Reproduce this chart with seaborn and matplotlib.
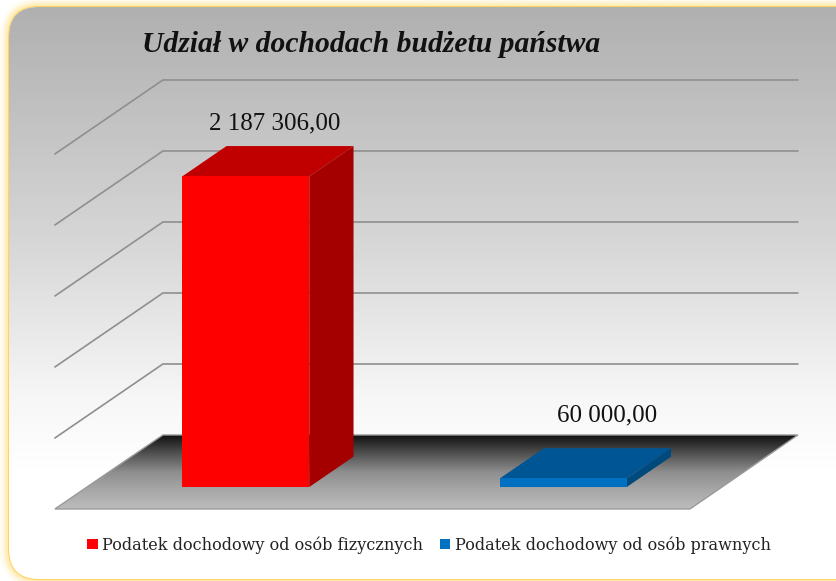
import numpy as np
import pandas as pd
import matplotlib.pyplot as plt
import seaborn as sns
from matplotlib.colors import LinearSegmentedColormap
from matplotlib.patches import FancyBboxPatch, Polygon

# Data
categories = ["Podatek dochodowy od osób fizycznych", "Podatek dochodowy od osób prawnych"]
values = [2187306.00, 60000.00]
grid_values = [0, 500000, 1000000, 1500000, 2000000, 2500000]

title = "Udział w dochodach budżetu państwa"

# Colours for the faces of each bar
front_colors = ["#ff0000", "#0070c0"]
top_colors = ["#c00000", "#005694"]
side_colors = ["#a50000", "#00497d"]
grid_color = "#8f8f8f"

W, H = 836, 581
BAR_WIDTH = 0.4

# fake 3D depth, in pixels for one full floor depth
DEPTH_DX = 108 / 317.5          # in category units
DEPTH_DY = 74 / 142 * 1e6       # in value units
FLOOR_FRONT = -0.297
FLOOR_BACK = 0.703
BAR_BACK = 0.41


def project(x, y, depth):
    return x + depth * DEPTH_DX, y + depth * DEPTH_DY


def fmt_value(v):
    return f"{v:,.2f}".replace(",", " ").replace(".", ",")


sns.set_style("white")
plt.rcParams["font.family"] = ["Liberation Serif", "DejaVu Serif"]

fig = plt.figure(figsize=(W / 100, H / 100), dpi=100, facecolor="white")

# Background panel with yellow glow, in pixel coordinates
bg = fig.add_axes([0, 0, 1, 1], zorder=0)
bg.set_xlim(0, W)
bg.set_ylim(H, 0)
bg.axis("off")
box = dict(boxstyle="round,pad=0,rounding_size=30")
for lw, col in [(13, "#fffbf0"), (9, "#fff6dc"), (6, "#fff0c4"), (3, "#ffe9ab"), (1.3, "#ffd05c")]:
    bg.add_patch(FancyBboxPatch((9, 7), 880, 572, fc="none", ec=col, lw=lw, **box))
panel = FancyBboxPatch((9, 7), 880, 572, fc="white", ec="none", **box)
bg.add_patch(panel)
panel_cmap = LinearSegmentedColormap.from_list(
    "panel", [(0, "#b0b0b0"), (0.5, "#d6d6d6"), (0.85, "#f7f7f7"), (1, "#ffffff")])
grad = np.linspace(0, 1, 256).reshape(-1, 1)
img = bg.imshow(grad, cmap=panel_cmap, extent=(0, W, 470, 7), aspect="auto", zorder=2)
img.set_clip_path(panel)
bg.set_xlim(0, W)
bg.set_ylim(H, 0)

# Main axes sit on the plane of the bars' front faces
ax = fig.add_axes([87 / W, (H - 487) / H, 635 / W, 355 / H], zorder=1)
ax.patch.set_alpha(0)

df = pd.DataFrame({"category": categories, "value": values})
sns.barplot(data=df, x="category", y="value", hue="category", palette=front_colors,
            hue_order=categories, order=categories, width=BAR_WIDTH, dodge=False,
            saturation=1, ax=ax, zorder=5, linewidth=0, legend=True)
ax.set_xlim(-0.5, 1.5)
ax.set_ylim(0, 2500000)

# Walls: grid lines running along the side and back
x0, x1 = -0.5, 1.5
for v in grid_values[1:]:
    xs = [project(x0, v, FLOOR_FRONT)[0], project(x0, v, FLOOR_BACK)[0], project(x1, v, FLOOR_BACK)[0]]
    ys = [project(x0, v, FLOOR_FRONT)[1], project(x0, v, FLOOR_BACK)[1], project(x1, v, FLOOR_BACK)[1]]
    ax.plot(xs, ys, color=grid_color, lw=1.2, clip_on=False, zorder=1, solid_joinstyle="miter")

# Floor with dark-to-grey gradient
floor_pts = [project(x0, 0, FLOOR_FRONT), project(x1, 0, FLOOR_FRONT),
             project(x1, 0, FLOOR_BACK), project(x0, 0, FLOOR_BACK)]
floor = Polygon(floor_pts, closed=True, fc="none", ec="#9a9a9a", lw=1.0, zorder=3,
                clip_on=False, transform=ax.transData)
ax.add_patch(floor)
floor_cmap = LinearSegmentedColormap.from_list(
    "floor", [(0, "#bcbcbc"), (0.25, "#a8a8a8"), (0.5, "#8e8e8e"), (0.78, "#4a4a4a"), (1, "#111111")])
ylow, yhigh = floor_pts[0][1], floor_pts[2][1]
fimg = ax.imshow(grad, cmap=floor_cmap, origin="lower", aspect="auto", zorder=2,
                 extent=(floor_pts[0][0], floor_pts[2][0], ylow, yhigh))
fimg.set_clip_box(fig.bbox)
fimg.set_clip_path(floor)
ax.set_xlim(-0.5, 1.5)
ax.set_ylim(0, 2500000)

# Top and side faces of the bars, plus value labels
label_offsets = [(29, 53), (44, 63)]
for i, v in enumerate(values):
    left, right = i - BAR_WIDTH / 2, i + BAR_WIDTH / 2
    top = [project(left, v, 0), project(right, v, 0), project(right, v, BAR_BACK), project(left, v, BAR_BACK)]
    side = [project(right, 0, 0), project(right, 0, BAR_BACK), project(right, v, BAR_BACK), project(right, v, 0)]
    ax.add_patch(Polygon(top, closed=True, fc=top_colors[i], ec="none", zorder=4, clip_on=False))
    ax.add_patch(Polygon(side, closed=True, fc=side_colors[i], ec="none", zorder=4, clip_on=False))
    ax.annotate(fmt_value(v), xy=(i, v), xytext=label_offsets[i], textcoords="offset pixels",
                ha="center", va="center", fontsize=18, color="#111111", annotation_clip=False)

for bar in ax.patches:
    bar.set_clip_on(False)

# Legend below the floor
handles, labels = ax.get_legend_handles_labels()
ax.get_legend().remove()
ax.axis("off")

fig.text(371 / W, 1 - 44 / H, title, ha="center", va="center", fontsize=21.3,
         fontweight="bold", fontstyle="italic", color="#111111", zorder=5)

leg = fig.legend(handles, labels, loc="center", bbox_to_anchor=(429 / W, 1 - 545 / H), ncol=2,
                 frameon=False, handlelength=0.65, handleheight=0.65, handletextpad=0.3,
                 columnspacing=1.0, prop={"family": "DejaVu Serif", "size": 11.6})
for t in leg.get_texts():
    t.set_color("#222222")

fig.savefig("out.png", dpi=100)
